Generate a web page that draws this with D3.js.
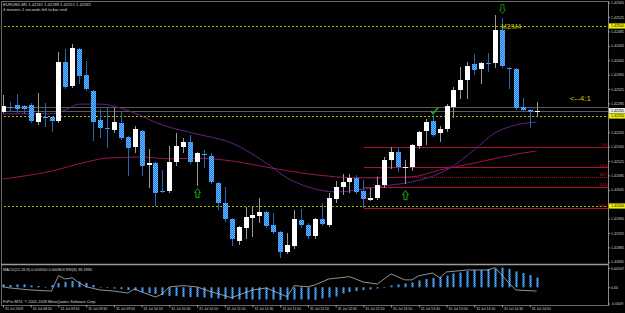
<!DOCTYPE html>
<html>
<head>
<meta charset="utf-8">
<script src="https://cdn.jsdelivr.net/npm/d3@7"></script>
<style>
html, body { margin: 0; padding: 0; background: #000; overflow: hidden; }
svg { display: block; }
text { font-family: "Liberation Sans", Arial, sans-serif; }
</style>
</head>
<body>
<svg id="chart" width="625" height="313"></svg>
<script>
// EURUSD M5, 31 Jul 2009, 08:30 .. 14:55
var symbol = "EURUSD,M5";
var opens = [1.42261,1.42276,1.42281,1.42278,1.42281,1.42233,1.42247,1.42247,1.42236,1.42400,
  1.42333,1.42436,1.42364,1.42319,1.42239,1.42218,1.42211,1.42231,1.42192,1.42164,
  1.42208,1.42114,1.42119,1.42042,1.42042,1.42122,1.42164,1.42178,1.42122,1.42144,
  1.42139,1.42064,1.42008,1.41964,1.41903,1.41939,1.41967,1.41972,1.41983,1.41947,
  1.41928,1.41872,1.41889,1.41961,1.41947,1.41917,1.41964,1.41947,1.42019,1.42053,
  1.42067,1.42078,1.42042,1.42017,1.42022,1.42058,1.42128,1.42150,1.42106,1.42108,
  1.42167,1.42208,1.42236,1.42203,1.42214,1.42275,1.42322,1.42350,1.42394,1.42381,
  1.42397,1.42397,1.42489,1.42383,1.42381,1.42275,1.42267,1.42261];
var highs = [1.42308,1.42289,1.42311,1.42281,1.42286,1.42314,1.42286,1.42250,1.42428,1.42436,
  1.42450,1.42439,1.42403,1.42322,1.42269,1.42275,1.42272,1.42264,1.42194,1.42222,
  1.42211,1.42158,1.42122,1.42100,1.42167,1.42203,1.42189,1.42197,1.42150,1.42156,
  1.42147,1.42067,1.42053,1.41967,1.41944,1.41997,1.42000,1.42022,1.41986,1.41981,
  1.41931,1.41925,1.41989,1.41992,1.41953,1.41967,1.42008,1.42036,1.42069,1.42089,
  1.42089,1.42086,1.42072,1.42050,1.42081,1.42136,1.42164,1.42161,1.42128,1.42172,
  1.42208,1.42242,1.42253,1.42222,1.42283,1.42331,1.42386,1.42400,1.42422,1.42400,
  1.42425,1.42531,1.42522,1.42386,1.42383,1.42300,1.42269,1.42289];
var lows = [1.42261,1.42264,1.42261,1.42258,1.42233,1.42228,1.42222,1.42208,1.42233,1.42328,
  1.42331,1.42342,1.42322,1.42183,1.42192,1.42164,1.42206,1.42186,1.42086,1.42150,
  1.42086,1.42053,1.42003,1.42039,1.42039,1.42114,1.42150,1.42119,1.42058,1.42108,
  1.42064,1.41992,1.41958,1.41892,1.41894,1.41911,1.41917,1.41956,1.41942,1.41925,
  1.41858,1.41869,1.41883,1.41942,1.41911,1.41911,1.41947,1.41944,1.42011,1.42033,
  1.42039,1.42036,1.41997,1.42017,1.42019,1.42053,1.42106,1.42097,1.42064,1.42100,
  1.42161,1.42172,1.42194,1.42181,1.42208,1.42247,1.42300,1.42300,1.42367,1.42342,
  1.42375,1.42386,1.42386,1.42328,1.42269,1.42264,1.42219,1.42251];
var closes = [1.42278,1.42275,1.42269,1.42269,1.42236,1.42258,1.42246,1.42236,1.42400,1.42331,
  1.42439,1.42361,1.42325,1.42233,1.42217,1.42215,1.42233,1.42189,1.42161,1.42214,
  1.42111,1.42119,1.42036,1.42040,1.42122,1.42167,1.42178,1.42122,1.42147,1.42143,
  1.42067,1.42008,1.41964,1.41908,1.41942,1.41969,1.41975,1.41983,1.41944,1.41928,
  1.41872,1.41892,1.41964,1.41947,1.41917,1.41964,1.41950,1.42022,1.42053,1.42067,
  1.42078,1.42039,1.42019,1.42022,1.42058,1.42128,1.42150,1.42108,1.42107,1.42169,
  1.42206,1.42233,1.42197,1.42214,1.42278,1.42322,1.42350,1.42389,1.42378,1.42397,
  1.42396,1.42489,1.42389,1.42381,1.42272,1.42267,1.42261,1.42265];

// moving averages, read at [bar, price]
var maFast = [[0,1.42256],[7,1.42256],[9,1.42267],[11,1.42283],[14,1.42283],[17,1.42272],[19,1.42258],
  [23,1.42225],[28,1.42200],[33,1.42175],[38,1.42119],[41,1.42078],[44,1.42053],[48,1.42039],
  [51,1.42044],[55,1.42056],[59,1.42067],[64,1.42100],[68,1.42156],[71,1.42203],[74,1.42225],[77,1.42233]];
var maSlow = [[0,1.42075],[7,1.42097],[12,1.42122],[15,1.42133],[20,1.42136],[24,1.42131],[28,1.42133],
  [33,1.42125],[38,1.42108],[43,1.42092],[48,1.42081],[52,1.42078],[59,1.42081],[63,1.42100],
  [68,1.42119],[72,1.42136],[75,1.42147],[77,1.42153]];

// MACD window
var macdHist = [0.00017,0.00013,0.00016,0.00016,0.00010,0.00007,0.00002,0.00013,0.00024,0.00030,
  0.00035,0.00032,0.00024,0.00013,0.00002,-0.00001,-0.00007,-0.00010,-0.00015,-0.00018,
  -0.00026,-0.00032,-0.00037,-0.00043,-0.00048,-0.00048,-0.00054,-0.00054,-0.00054,-0.00057,
  -0.00059,-0.00062,-0.00065,-0.00065,-0.00068,-0.00065,-0.00068,-0.00068,-0.00068,-0.00068,
  -0.00070,-0.00070,-0.00068,-0.00068,-0.00068,-0.00070,-0.00062,-0.00057,-0.00051,-0.00034,
  -0.00026,-0.00021,-0.00015,-0.00012,-0.00007,-0.00001,0.00010,0.00016,0.00021,0.00027,
  0.00038,0.00046,0.00052,0.00057,0.00065,0.00077,0.00082,0.00090,0.00096,0.00096,
  0.00102,0.00104,0.00109,0.00102,0.00088,0.00079,0.00068,0.00054];
var macdSignal = [[0,0.00003],[1,-0.00004],[4,-0.00015],[7,-0.00021],[8,0.00064],[9,0.00046],[10,0.00053],
  [11,0.00024],[12,0.00003],[14,-0.00015],[16,-0.00021],[18,-0.00032],[19,-0.00009],[20,-0.00026],
  [22,-0.00054],[23,-0.00037],[24,0.00002],[26,0.00009],[28,0.00002],[30,-0.00024],[33,-0.00058],
  [34,-0.00043],[36,-0.00015],[38,-0.00004],[40,-0.00037],[41,-0.00052],[42,0.00009],[44,0.00003],
  [45,0.00013],[47,0.00046],[50,0.00059],[52,0.00029],[54,0.00018],[55,0.00046],[56,0.00074],
  [58,0.00041],[59,0.00041],[60,0.00064],[62,0.00079],[63,0.00053],[64,0.00085],[67,0.00096],
  [70,0.00096],[71,0.00109],[73,0.00024],[74,-0.00015],[77,-0.00021]];
var macdTicks = [0.00107, 0, -0.0009];
var macdTickLabels = ["0.00107", "0.00", "-0.0009"];
var macdCaption = "MACD(12,26,9) 0.000500 0.000803  RSI(8) 38.1990";

// axis ticks
var priceTicks = [1.42565,1.42525,1.42485,1.42445,1.42405,1.42365,1.42325,1.42285,1.42205,
  1.42165,1.42125,1.42085,1.42045,1.41965,1.41925,1.41885,1.41845];
var timeTickBars = [0,4,8,12,16,20,24,28,32,36,40,44,48,52,56,60,64,68,72,76];
var timeLabels = ["31 Jul 2009","31 Jul 08:50","31 Jul 09:10","31 Jul 09:30","31 Jul 09:50",
  "31 Jul 10:10","31 Jul 10:30","31 Jul 10:50","31 Jul 11:10","31 Jul 11:30","31 Jul 11:50",
  "31 Jul 12:10","31 Jul 12:30","31 Jul 12:50","31 Jul 13:10","31 Jul 13:30","31 Jul 13:50",
  "31 Jul 14:10","31 Jul 14:30","31 Jul 14:50"];

// objects drawn on the chart
var levelLines = [1.42500, 1.42250, 1.42000];
var bidLines = [1.42274, 1.42263];
var fibPrices = [1.42164, 1.42108, 1.42081, 1.42053, 1.41995];
var fibLabels = ["0.0", "23.6", "38.2", "50.0", "100.0"];
var fibAnchor = [[52, 1.41997], [56, 1.42164]];
var upArrows = [[28, 1.42050], [58, 1.42044]];
var downArrows = [[72, 1.42536]];
var checkMarks = [[62, 1.42256]];
var notes = [[71.9, 1.42492, "M2/M4", 6.5], [81.8, 1.42293, "<--4:1", 8]];

var svg = d3.select("#chart");
var W = 625, H = 313;
var axisX = 608, mainTop = 1, mainBottom = 264, indTop = 266, indBottom = 305;

svg.append("rect").attr("width", W).attr("height", H).attr("fill", "#000");

var defs = svg.append("defs");
var pat = defs.append("pattern").attr("id", "blueDots").attr("patternUnits", "userSpaceOnUse")
  .attr("width", 2).attr("height", 2);
pat.append("rect").attr("width", 2).attr("height", 2).attr("fill", "#1c7fe6");
pat.append("rect").attr("width", 1).attr("height", 1).attr("fill", "#6cb6ff");
pat.append("rect").attr("x", 1).attr("y", 1).attr("width", 1).attr("height", 1).attr("fill", "#6cb6ff");
defs.append("clipPath").attr("id", "mainClip").append("rect")
  .attr("x", 2).attr("y", 2).attr("width", axisX - 2).attr("height", mainBottom - 2);
defs.append("clipPath").attr("id", "indClip").append("rect")
  .attr("x", 2).attr("y", indTop).attr("width", axisX - 2).attr("height", indBottom - indTop);

var x = d3.scaleLinear().domain([0, 77]).range([3, 536.6]);
var y = d3.scaleLinear().domain([1.4200, 1.4250]).range([206, 26]);
var ym = d3.scaleLinear().domain([-0.0009, 0.00107]).range([303.5, 268]);
var px = function(i) { return Math.round(x(i)); };

// frame
svg.append("line").attr("x1", 1.5).attr("x2", 1.5).attr("y1", 1).attr("y2", indBottom).attr("stroke", "#6a6a6a");
svg.append("line").attr("x1", 1).attr("x2", axisX).attr("y1", 1.5).attr("y2", 1.5).attr("stroke", "#6a6a6a");
svg.append("line").attr("x1", 1).attr("x2", axisX).attr("y1", 264.5).attr("y2", 264.5)
  .attr("stroke", "#9a9a9a").attr("stroke-width", 1.6);
svg.append("line").attr("x1", 1).attr("x2", axisX).attr("y1", indBottom + 0.5).attr("y2", indBottom + 0.5).attr("stroke", "#6a6a6a");
svg.append("line").attr("x1", axisX + 0.5).attr("x2", axisX + 0.5).attr("y1", 1).attr("y2", indBottom + 1).attr("stroke", "#8a8a8a");

var main = svg.append("g").attr("clip-path", "url(#mainClip)");

// horizontal level lines
main.selectAll(".lvl").data(levelLines).enter().append("line")
  .attr("x1", 0).attr("x2", axisX).attr("y1", function(d) { return Math.round(y(d)) + 0.5; })
  .attr("y2", function(d) { return Math.round(y(d)) + 0.5; })
  .attr("stroke", "#b8b800").attr("stroke-dasharray", "2,2");
main.selectAll(".bid").data(bidLines).enter().append("line")
  .attr("x1", 0).attr("x2", axisX).attr("y1", function(d) { return Math.round(y(d)) + 0.5; })
  .attr("y2", function(d) { return Math.round(y(d)) + 0.5; })
  .attr("stroke", "#5a5a5a");

// fibonacci
var fibX = px(fibAnchor[0][0]) + 1;
main.selectAll(".fib").data(fibPrices).enter().append("line")
  .attr("x1", fibX).attr("x2", axisX)
  .attr("y1", function(d) { return Math.round(y(d)) + 0.5; })
  .attr("y2", function(d) { return Math.round(y(d)) + 0.5; })
  .attr("stroke", "#b01030")
  .attr("stroke-dasharray", function(d, i) { return i == 2 ? "1,1" : null; });
main.append("line")
  .attr("x1", x(fibAnchor[0][0])).attr("y1", y(fibAnchor[0][1]))
  .attr("x2", x(fibAnchor[1][0])).attr("y2", y(fibAnchor[1][1]))
  .attr("stroke", "#c01020").attr("stroke-dasharray", "1,2");
main.selectAll(".fibLabel").data(fibPrices).enter().append("text")
  .attr("x", axisX - 1).attr("y", function(d) { return y(d) - 0.6; })
  .attr("text-anchor", "end").attr("font-size", 3.8).attr("fill", "#d01828")
  .text(function(d, i) { return fibLabels[i]; });

// moving averages
var maLine = d3.line().x(function(d) { return x(d[0]); }).y(function(d) { return y(d[1]); })
  .curve(d3.curveMonotoneX);
main.append("path").attr("d", maLine(maSlow)).attr("fill", "none").attr("stroke", "#9c1456").attr("stroke-width", 1);
main.append("path").attr("d", maLine(maFast)).attr("fill", "none").attr("stroke", "#64228a").attr("stroke-width", 1);

// candles
var bars = d3.range(opens.length);
var candle = main.selectAll(".candle").data(bars).enter().append("g");
candle.append("line")
  .attr("x1", function(i) { return px(i) + 0.5; }).attr("x2", function(i) { return px(i) + 0.5; })
  .attr("y1", function(i) { return Math.round(y(highs[i])); })
  .attr("y2", function(i) { return Math.round(y(lows[i])) + 1; })
  .attr("stroke", function(i) { return closes[i] >= opens[i] ? "#9a9a9a" : "#2466b0"; });
candle.append("rect")
  .attr("x", function(i) { return px(i) - 2; }).attr("width", 5)
  .attr("y", function(i) { return Math.round(y(Math.max(opens[i], closes[i]))); })
  .attr("height", function(i) { return Math.max(1, Math.round(Math.abs(y(opens[i]) - y(closes[i])))); })
  .attr("fill", function(i) { return closes[i] >= opens[i] ? "#ffffff" : "url(#blueDots)"; });

// signals
var upPath = "M0,0 L3,4 L1.5,4 L1.5,9 L-1.5,9 L-1.5,4 L-3,4 Z";
var downPath = "M0,0 L3,-4 L1.5,-4 L1.5,-9 L-1.5,-9 L-1.5,-4 L-3,-4 Z";
main.selectAll(".up").data(upArrows).enter().append("path")
  .attr("transform", function(d) { return "translate(" + (px(d[0]) + 0.5) + "," + (y(d[1]) + 0.5) + ")"; })
  .attr("d", upPath).attr("fill", "#000").attr("stroke", "#10b010").attr("stroke-width", 1);
main.selectAll(".down").data(downArrows).enter().append("path")
  .attr("transform", function(d) { return "translate(" + (px(d[0]) + 0.5) + "," + (y(d[1]) + 0.5) + ")"; })
  .attr("d", downPath).attr("fill", "#000").attr("stroke", "#0a8a0a").attr("stroke-width", 1);
main.selectAll(".check").data(checkMarks).enter().append("path")
  .attr("transform", function(d) { return "translate(" + (px(d[0]) + 1) + "," + y(d[1]) + ")"; })
  .attr("d", "M-3,-3 L-1,0 L4,-6").attr("fill", "none").attr("stroke", "#20b020").attr("stroke-width", 1.5);
main.selectAll(".note").data(notes).enter().append("text")
  .attr("x", function(d) { return x(d[0]); }).attr("y", function(d) { return y(d[1]); })
  .attr("font-size", function(d) { return d[3]; }).attr("fill", "#c8c800")
  .text(function(d) { return d[2]; });

// price axis
var yAxis = svg.append("g").attr("transform", "translate(" + axisX + ",0)")
  .call(d3.axisRight(y).tickValues(priceTicks).tickSize(2).tickPadding(1).tickFormat(d3.format(".5f")));
yAxis.select(".domain").remove();
yAxis.selectAll("line").attr("stroke", "#9a9a9a");
yAxis.selectAll("text").attr("font-size", 3.6).attr("fill", "#d0d0d0").attr("font-family", null);

function axisTag(price, bg, label) {
  var g = svg.append("g").attr("transform", "translate(" + (axisX + 1) + "," + y(price) + ")");
  g.append("rect").attr("x", 0).attr("y", -2.6).attr("width", 17).attr("height", 5.2).attr("fill", bg);
  g.append("text").attr("x", 2).attr("dy", "0.35em").attr("font-size", 3.6).attr("fill", "#000").text(label);
}
levelLines.forEach(function(p) { axisTag(p, "#f0f000", d3.format(".5f")(p)); });
axisTag(closes[closes.length - 1], "#e8e8e8", d3.format(".5f")(closes[closes.length - 1]));

// MACD window
var ind = svg.append("g").attr("clip-path", "url(#indClip)");
ind.selectAll(".hist").data(macdHist).enter().append("rect")
  .attr("x", function(d, i) { return px(i) - 0.5; }).attr("width", 2)
  .attr("y", function(d) { return Math.min(ym(0), ym(d)); })
  .attr("height", function(d) { return Math.max(0.6, Math.abs(ym(d) - ym(0))); })
  .attr("fill", "url(#blueDots)");
var sigLine = d3.line().x(function(d) { return x(d[0]); }).y(function(d) { return ym(d[1]); });
ind.append("path").attr("d", sigLine(macdSignal)).attr("fill", "none").attr("stroke", "#b8b8b8").attr("stroke-width", 0.8);

var mAxis = svg.append("g").attr("transform", "translate(" + axisX + ",0)")
  .call(d3.axisRight(ym).tickValues(macdTicks).tickSize(2).tickPadding(1)
    .tickFormat(function(d, i) { return macdTickLabels[i]; }));
mAxis.select(".domain").remove();
mAxis.selectAll("line").attr("stroke", "#9a9a9a");
mAxis.selectAll("text").attr("font-size", 3.6).attr("fill", "#d0d0d0").attr("font-family", null);

// time axis
var xAxis = svg.append("g").attr("transform", "translate(0," + indBottom + ")")
  .call(d3.axisBottom(x).tickValues(timeTickBars).tickSize(2.5)
    .tickFormat(function(d, i) { return timeLabels[i]; }));
xAxis.select(".domain").remove();
xAxis.selectAll("line").attr("stroke", "#9a9a9a");
xAxis.selectAll("text").attr("font-size", 3.5).attr("fill", "#d0d0d0").attr("font-family", null)
  .attr("text-anchor", "start").attr("x", 1.5).attr("y", 5.2).attr("dy", null);

// captions
var last = opens.length - 1;
var f5 = d3.format(".5f");
svg.append("text").attr("x", 3).attr("y", 6).attr("font-size", 4.1).attr("fill", "#d8d8d8")
  .text(symbol + " " + f5(opens[last]) + " " + f5(highs[last]) + " " + f5(lows[last]) + " " + f5(closes[last]));
svg.append("text").attr("x", 3).attr("y", 10.6).attr("font-size", 4.1).attr("fill", "#d8d8d8")
  .text("4 minutes 1 seconds left to bar end");
svg.append("text").attr("x", 3).attr("y", 271).attr("font-size", 3.9).attr("fill", "#d8d8d8").text(macdCaption);
svg.append("text").attr("x", 3).attr("y", 302.5).attr("font-size", 3.9).attr("fill", "#d8d8d8")
  .text("FxPro MT4, \u00a9 2001-2009 MetaQuotes Software Corp.");
</script>
</body>
</html>
